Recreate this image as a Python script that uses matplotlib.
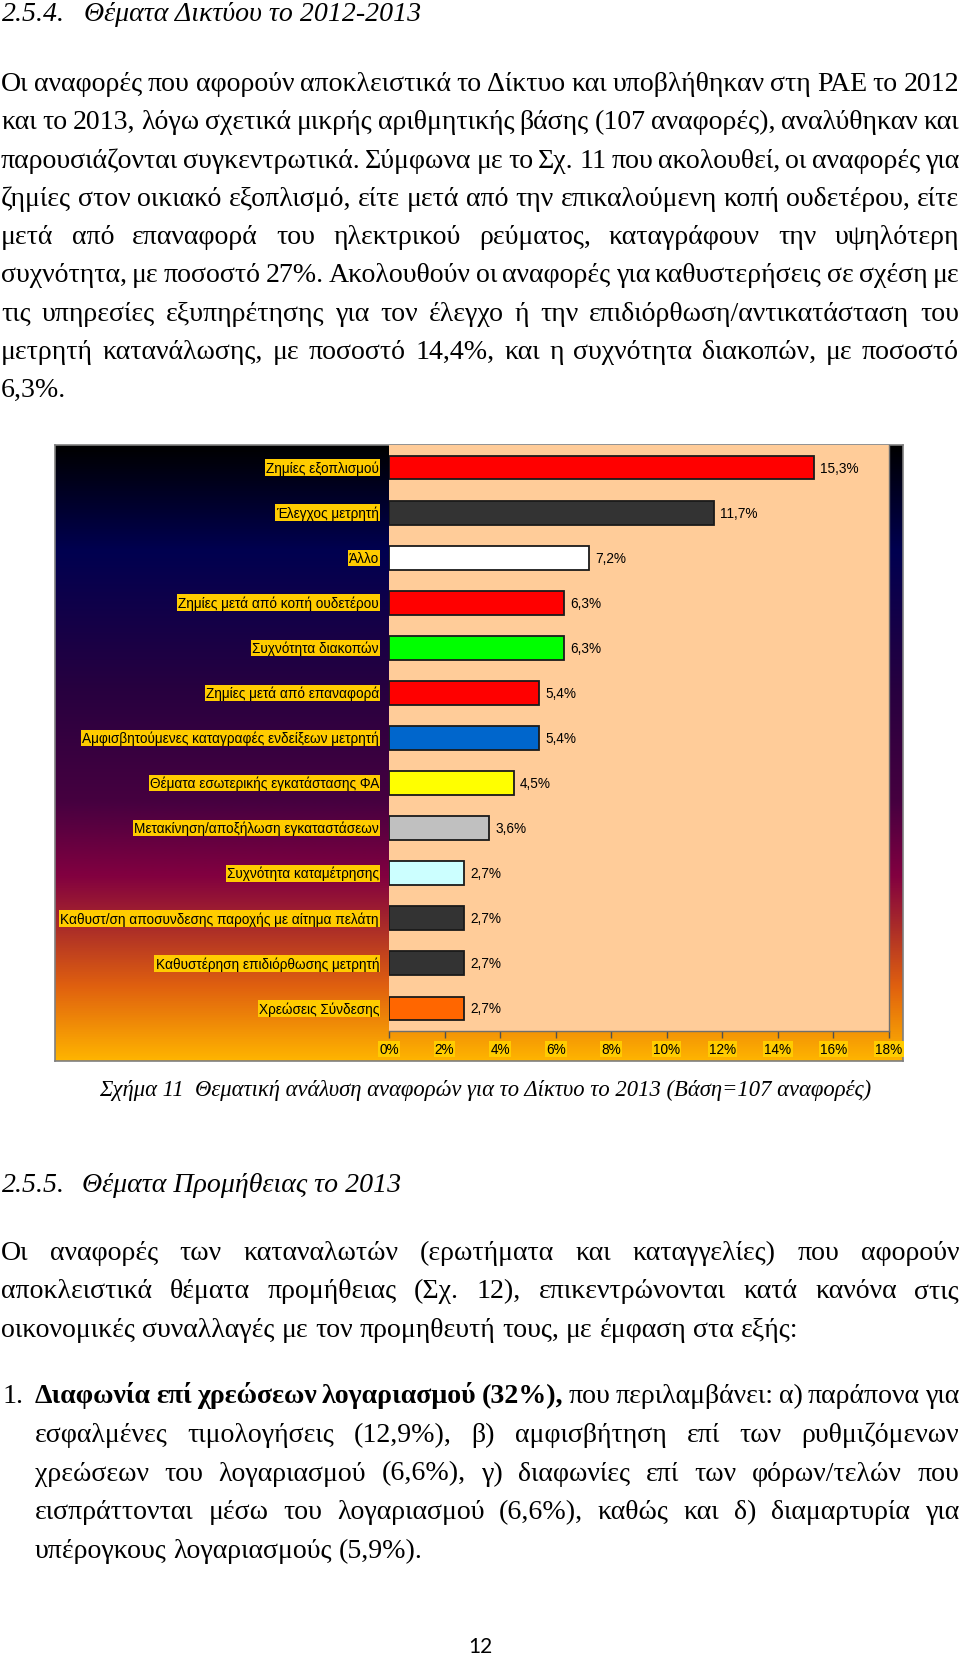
import matplotlib
matplotlib.use("Agg")
import matplotlib.pyplot as plt
import numpy as np
from matplotlib.colors import LinearSegmentedColormap
from matplotlib.font_manager import FontProperties
from matplotlib.patches import Rectangle

# ---------------- data ----------------
categories = [
    "Ζημίες εξοπλισμού",
    "Έλεγχος μετρητή",
    "Άλλο",
    "Ζημίες μετά από κοπή ουδετέρου",
    "Συχνότητα διακοπών",
    "Ζημίες μετά από επαναφορά",
    "Αμφισβητούμενες καταγραφές ενδείξεων μετρητή",
    "Θέματα εσωτερικής εγκατάστασης ΦΑ",
    "Μετακίνηση/αποξήλωση εγκαταστάσεων",
    "Συχνότητα καταμέτρησης",
    "Καθυστ/ση αποσυνδεσης παροχής με αίτημα πελάτη",
    "Καθυστέρηση επιδιόρθωσης μετρητή",
    "Χρεώσεις Σύνδεσης",
]
values = [15.3, 11.7, 7.2, 6.3, 6.3, 5.4, 5.4, 4.5, 3.6, 2.7, 2.7, 2.7, 2.7]
value_labels = ["15,3%", "11,7%", "7,2%", "6,3%", "6,3%", "5,4%", "5,4%",
                "4,5%", "3,6%", "2,7%", "2,7%", "2,7%", "2,7%"]
bar_colors = ["#FF0000", "#333333", "#FFFFFF", "#FF0000", "#00FF00", "#FF0000",
              "#0066CC", "#FFFF00", "#C0C0C0", "#CCFFFF", "#333333", "#333333",
              "#FF6600"]
xticks = [0, 2, 4, 6, 8, 10, 12, 14, 16, 18]
xtick_labels = ["0%", "2%", "4%", "6%", "8%", "10%", "12%", "14%", "16%", "18%"]

heading1_num = "2.5.4."
heading1_text = "Θέματα Δικτύου το 2012-2013"
para1 = [
    "Οι αναφορές που αφορούν αποκλειστικά το Δίκτυο και υποβλήθηκαν στη ΡΑΕ το 2012",
    "και το 2013, λόγω σχετικά μικρής αριθμητικής βάσης (107 αναφορές), αναλύθηκαν και",
    "παρουσιάζονται συγκεντρωτικά. Σύμφωνα με το Σχ. 11 που ακολουθεί, οι αναφορές για",
    "ζημίες στον οικιακό εξοπλισμό, είτε μετά από την επικαλούμενη κοπή ουδετέρου, είτε",
    "μετά από επαναφορά του ηλεκτρικού ρεύματος, καταγράφουν την υψηλότερη",
    "συχνότητα, με ποσοστό 27%. Ακολουθούν οι αναφορές για καθυστερήσεις σε σχέση με",
    "τις υπηρεσίες εξυπηρέτησης για τον έλεγχο ή την επιδιόρθωση/αντικατάσταση του",
    "μετρητή κατανάλωσης, με ποσοστό 14,4%, και η συχνότητα διακοπών, με ποσοστό",
    "6,3%.",
]
caption = "Σχήμα 11  Θεματική ανάλυση αναφορών για το Δίκτυο το 2013 (Βάση=107 αναφορές)"
heading2_num = "2.5.5."
heading2_text = "Θέματα Προμήθειας το 2013"
para2 = [
    "Οι αναφορές των καταναλωτών (ερωτήματα και καταγγελίες) που αφορούν",
    "αποκλειστικά θέματα προμήθειας (Σχ. 12), επικεντρώνονται κατά κανόνα στις",
    "οικονομικές συναλλαγές με τον προμηθευτή τους, με έμφαση στα εξής:",
]
list_num = "1."
list_bold = "Διαφωνία επί χρεώσεων λογαριασμού (32%),"
list_lines = [
    "που περιλαμβάνει: α) παράπονα για",
    "εσφαλμένες τιμολογήσεις (12,9%), β) αμφισβήτηση επί των ρυθμιζόμενων",
    "χρεώσεων του λογαριασμού (6,6%), γ) διαφωνίες επί των φόρων/τελών που",
    "εισπράττονται μέσω του λογαριασμού (6,6%), καθώς και δ) διαμαρτυρία για",
    "υπέρογκους λογαριασμούς (5,9%).",
]
page_number = "12"

# ---------------- figure / page ----------------
W, H = 960, 1656
fig = plt.figure(figsize=(W / 100, H / 100), dpi=100)
fig.patch.set_facecolor("white")
page = fig.add_axes([0, 0, 1, 1], zorder=0)
page.set_xlim(0, W)
page.set_ylim(H, 0)
page.axis("off")
renderer = fig.canvas.get_renderer()


def twidth(s, fp):
    t = page.text(0, 0, s, fontproperties=fp)
    w = t.get_window_extent(renderer).width
    t.remove()
    return w


serif = "Liberation Serif"
fp_test = FontProperties(family=serif, size=18)
body_size = 18 * 801 / twidth(para2[2], fp_test)
fp_body = FontProperties(family=serif, size=body_size)
fp_ital = FontProperties(family=serif, style="italic", size=body_size)
fp_bold = FontProperties(family=serif, weight="bold", size=body_size)


def draw_line(segs, y, x0, x1, justify):
    words = []
    for s, fp in segs:
        for wd in s.split():
            words.append((wd, fp))
    widths = [twidth(wd, fp) for wd, fp in words]
    if justify and len(words) > 1:
        gap = (x1 - x0 - sum(widths)) / (len(words) - 1)
    else:
        fp0 = words[0][1]
        gap = twidth("a a", fp0) - twidth("aa", fp0)
    x = x0
    for (wd, fp), w in zip(words, widths):
        page.text(x, y, wd, fontproperties=fp, ha="left", va="baseline", color="black")
        x += w + gap


# Heading 1
page.text(2, 21, heading1_num, fontproperties=fp_ital, va="baseline")
page.text(84, 21, heading1_text, fontproperties=fp_ital, va="baseline")
for i, line in enumerate(para1):
    draw_line([(line, fp_body)], 91 + 38.3 * i, 1, 959, i < len(para1) - 1)

# Caption
cap_size = body_size * 771 / twidth(caption, fp_ital)
fp_cap = FontProperties(family=serif, style="italic", size=cap_size)
page.text(485.5, 1096, caption, fontproperties=fp_cap, ha="center", va="baseline")

# Heading 2
page.text(2, 1192, heading2_num, fontproperties=fp_ital, va="baseline")
page.text(82, 1192, heading2_text, fontproperties=fp_ital, va="baseline")
for i, line in enumerate(para2):
    draw_line([(line, fp_body)], 1260 + 38.5 * i, 1, 959, i < len(para2) - 1)

# List
page.text(2, 1403, list_num, fontproperties=fp_body, va="baseline")
for i, line in enumerate(list_lines):
    segs = [(line, fp_body)]
    if i == 0:
        segs = [(list_bold, fp_bold), (line, fp_body)]
    draw_line(segs, 1403 + 38.8 * i, 35, 959, i < len(list_lines) - 1)

page.text(480, 1653, page_number, family="Lato", fontsize=15, ha="center", va="baseline")

# ---------------- chart ----------------
def rect_px(l, t, r, b):
    return [l / W, 1 - b / H, (r - l) / W, (b - t) / H]


fl, ft, fr, fb = 55, 446, 903, 1062
bg = fig.add_axes(rect_px(fl, ft, fr, fb), zorder=1)
stops = [(0.0, "#000000"), (0.17, "#000050"), (0.40, "#28003F"), (0.58, "#460040"),
         (0.70, "#820040"), (0.78, "#A82A2A"), (0.88, "#E0600F"), (1.0, "#FFB400")]
cmap = LinearSegmentedColormap.from_list("sunset", stops)
grad = np.linspace(0, 1, 512).reshape(-1, 1)
bg.imshow(grad, aspect="auto", cmap=cmap, extent=[0, 1, 0, 1], origin="upper",
          interpolation="bilinear")
bg.set_xticks([])
bg.set_yticks([])
for sp in bg.spines.values():
    sp.set_color("#7F7F7F")
    sp.set_linewidth(1.2)

ax = fig.add_axes(rect_px(389, 446, 889, 1032), zorder=2)
ax.set_facecolor("#FFCC99")
ypos = np.arange(len(categories))
ax.barh(ypos, values, height=0.53, color=bar_colors, edgecolor="#1A1A1A", linewidth=1.3)
ax.set_xlim(0, 18)
ax.set_ylim(len(categories) - 0.5, -0.5)
ax.set_yticks([])
ax.set_xticks(xticks)
ax.set_xticklabels(xtick_labels)
for s in ["top", "left"]:
    ax.spines[s].set_visible(False)
for s in ["bottom", "right"]:
    ax.spines[s].set_color("#6F6F6F")
    ax.spines[s].set_linewidth(1.0)

sans = "Liberation Sans"
chart_size = 18 * 297 / twidth(categories[6], FontProperties(family=sans, size=18))
ax.tick_params(axis="x", direction="out", length=5, width=1, color="#505050",
               pad=3.2, labelsize=chart_size, labelcolor="black")
for lbl in ax.get_xticklabels():
    lbl.set_family(sans)
    lbl.set_bbox(dict(boxstyle="square,pad=0.08", fc="#FFCC00", ec="none"))

for i, (cat, v, vl) in enumerate(zip(categories, values, value_labels)):
    ax.annotate(cat, xy=(0, i), xytext=(-10, 0), textcoords="offset pixels",
                ha="right", va="center", fontsize=chart_size, family=sans,
                color="black", annotation_clip=False,
                bbox=dict(boxstyle="square,pad=0.08", fc="#FFCC00", ec="none"))
    ax.annotate(vl, xy=(v, i), xytext=(6, 0), textcoords="offset pixels",
                ha="left", va="center", fontsize=chart_size, family=sans,
                color="black", annotation_clip=False)

fig.savefig("out.png", dpi=100)
